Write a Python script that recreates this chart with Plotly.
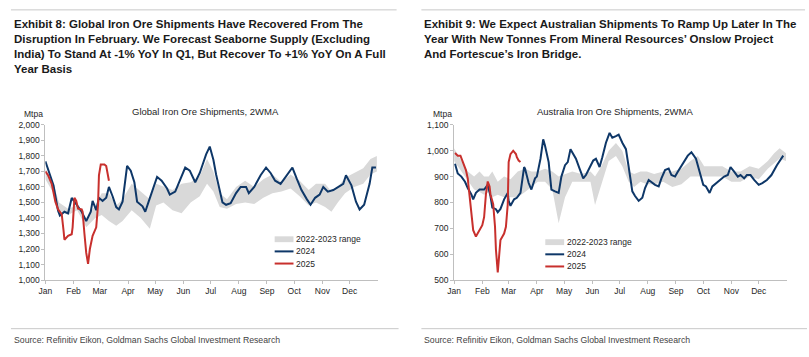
import pandas as pd
import plotly.graph_objects as go

# ---------------- DATA ----------------
# Left chart: Global iron ore shipments, 2WMA (Mtpa); x = day of year (0 = 1 Jan)
g24_day = [0, 9, 14, 16, 21, 25, 29, 34, 40, 45, 50, 52, 56, 59, 63, 67, 70, 74, 78, 81, 85, 90, 94, 98,
           101, 107, 110, 114, 119, 123, 128, 134, 137, 143, 148, 154, 159, 165, 170, 174, 177, 181, 185,
           188, 192, 195, 199, 204, 210, 215, 221, 224, 230, 237, 243, 248, 253, 259, 264, 272, 277, 282,
           288, 292, 297, 302, 306, 311, 317, 322, 328, 331, 337, 342, 346, 351, 357, 360, 364]
g24_val = [1765, 1610, 1446, 1415, 1440, 1430, 1529, 1490, 1440, 1380, 1440, 1510, 1450, 1530, 1510, 1530,
           1600, 1540, 1470, 1455, 1505, 1735, 1705, 1630, 1505, 1475, 1440, 1510, 1600, 1665, 1640, 1590,
           1550, 1570, 1640, 1725, 1705, 1630, 1690, 1755, 1810, 1860, 1775, 1680, 1570, 1500, 1485, 1495,
           1560, 1600, 1600, 1560, 1600, 1675, 1725, 1690, 1640, 1620, 1660, 1725, 1650, 1580, 1520, 1485,
           1530, 1550, 1600, 1570, 1580, 1600, 1620, 1675, 1610, 1505, 1455, 1485, 1620, 1725, 1725]
g25_day = [0, 3, 7, 11, 14, 18, 20, 21, 25, 29, 30, 32, 34, 36, 40, 41, 43, 45, 47, 49, 52, 56, 58, 59,
           61, 65, 67, 69, 70]
g25_val = [1700, 1675, 1620, 1505, 1455, 1425, 1320, 1260, 1285, 1295, 1340, 1530, 1510, 1460, 1455, 1440,
           1300, 1175, 1105, 1200, 1285, 1340, 1485, 1675, 1745, 1745, 1735, 1685, 1640]
g_rng_day = [0, 10, 15, 25, 35, 45, 55, 62, 70, 78, 85, 95, 105, 115, 122, 130, 140, 150, 160, 170, 178,
             185, 192, 200, 210, 220, 230, 240, 250, 260, 270, 280, 290, 298, 308, 315, 322, 330, 340, 350,
             358, 365]
g_rng_lo = [1650, 1550, 1450, 1420, 1450, 1340, 1400, 1420, 1380, 1350, 1380, 1450, 1400, 1330, 1480, 1500,
            1450, 1430, 1500, 1540, 1620, 1570, 1470, 1460, 1490, 1500, 1490, 1530, 1560, 1570, 1590, 1540,
            1480, 1500, 1470, 1440, 1500, 1560, 1600, 1620, 1680, 1700]
g_rng_hi = [1720, 1600, 1500, 1460, 1480, 1400, 1480, 1560, 1560, 1480, 1520, 1620, 1570, 1520, 1620, 1600,
            1580, 1620, 1630, 1670, 1780, 1700, 1560, 1520, 1600, 1640, 1600, 1650, 1680, 1630, 1680, 1640,
            1580, 1620, 1620, 1570, 1600, 1660, 1690, 1720, 1780, 1800]

# Right chart: Australia iron ore shipments, 2WMA (Mtpa)
a24_day = [1, 4, 8, 12, 15, 19, 21, 24, 28, 33, 37, 40, 42, 46, 48, 51, 55, 59, 60, 62, 66, 69, 73, 75, 77,
           78, 82, 85, 89, 91, 95, 98, 100, 104, 106, 107, 111, 115, 118, 122, 125, 128, 131, 134, 138, 142,
           145, 149, 153, 156, 160, 163, 167, 171, 174, 178, 181, 185, 189, 192, 196, 199, 203, 207, 210,
           214, 218, 221, 225, 228, 232, 236, 239, 243, 246, 252, 257, 261, 266, 270, 274, 277, 281, 284,
           290, 293, 297, 301, 304, 308, 312, 315, 319, 322, 326, 330, 335, 339, 344, 349, 355, 362]
a24_val = [950, 912, 900, 880, 856, 831, 812, 837, 850, 850, 868, 825, 780, 774, 762, 775, 812, 837, 806, 787,
           812, 818, 837, 893, 937, 931, 875, 850, 893, 900, 969, 1044, 1019, 956, 881, 850, 843, 837, 900,
           944, 956, 1006, 987, 969, 931, 893, 906, 937, 962, 969, 937, 975, 1031, 1069, 1050, 1056, 1062,
           1031, 1006, 937, 843, 825, 806, 818, 856, 887, 875, 868, 862, 893, 925, 931, 906, 900, 919, 956,
           981, 994, 969, 919, 868, 862, 837, 862, 881, 887, 900, 906, 937, 919, 900, 906, 893, 906, 906, 887,
           868, 875, 887, 906, 944, 981]
a25_day = [1, 4, 7, 10, 13, 15, 17, 19, 21, 24, 28, 31, 33, 35, 37, 39, 40, 42, 43, 45, 46, 48, 50, 51, 55,
           57, 59, 60, 62, 65, 68, 69, 71, 73]
a25_val = [991, 981, 981, 950, 925, 893, 831, 756, 693, 668, 693, 712, 743, 831, 881, 862, 831, 806, 793, 706,
           618, 530, 605, 655, 680, 706, 793, 956, 987, 1000, 987, 975, 962, 956]
a_rng_day = [0, 8, 15, 22, 28, 33, 38, 42, 48, 55, 62, 70, 78, 85, 92, 100, 108, 115, 122, 130, 140, 150,
             155, 162, 170, 178, 185, 192, 198, 205, 212, 220, 230, 240, 250, 260, 268, 275, 285, 295, 305,
             315, 325, 335, 345, 352, 358, 365]
a_rng_lo = [960, 920, 880, 850, 840, 830, 840, 820, 830, 820, 820, 820, 840, 860, 880, 880, 850, 720, 820,
            880, 880, 880, 790, 870, 960, 980, 940, 880, 860, 880, 870, 870, 880, 860, 870, 900, 900, 900,
            900, 900, 880, 880, 900, 890, 930, 950, 970, 960]
a_rng_hi = [1010, 960, 920, 900, 920, 900, 900, 920, 880, 900, 890, 920, 930, 920, 920, 930, 920, 900, 910,
            920, 910, 920, 900, 940, 1000, 1030, 1000, 920, 910, 920, 920, 910, 920, 920, 930, 960, 980, 940,
            940, 940, 920, 920, 940, 930, 960, 990, 1010, 990]

month_labels = ["Jan", "Feb", "Mar", "Apr", "May", "Jun", "Jul", "Aug", "Sep", "Oct", "Nov", "Dec"]
legend_names = ["2022-2023 range", "2024", "2025"]
titles = ["Global Iron Ore Shipments, 2WMA", "Australia Iron Ore Shipments, 2WMA"]
unit = "Mtpa"
headers = [
    "Exhibit 8: Global Iron Ore Shipments Have Recovered From The<br>Disruption In February. We Forecast Seaborne Supply (Excluding<br>India) To Stand At -1% YoY In Q1, But Recover To +1% YoY On A Full<br>Year Basis",
    "Exhibit 9: We Expect Australian Shipments To Ramp Up Later In The<br>Year With New Tonnes From Mineral Resources\u2019 Onslow Project<br>And Fortescue\u2019s Iron Bridge.",
]
source = "Source: Refinitiv Eikon, Goldman Sachs Global Investment Research"

# ---------------- STYLE ----------------
W, H = 809, 357
C24 = "#0e3768"
C25 = "#c8302d"
CBAND = "#d9d9d9"
AXC = "#bfbfbf"
TXT = "#262626"
FONT = "Liberation Sans, Arial, sans-serif"
HFONT = "Liberation Sans, Arial, sans-serif"

base = pd.Timestamp("2024-01-01")


def to_dates(days):
    return [base + pd.Timedelta(days=d) for d in days]


def px(x):
    return x / W


def py(y):
    return 1 - y / H


fig = go.Figure()

panels = [
    dict(xa="x", ya="y", rd=g_rng_day, lo=g_rng_lo, hi=g_rng_hi, d24=g24_day, v24=g24_val, d25=g25_day,
         v25=g25_val),
    dict(xa="x2", ya="y2", rd=a_rng_day, lo=a_rng_lo, hi=a_rng_hi, d24=a24_day, v24=a24_val, d25=a25_day,
         v25=a25_val),
]
for p in panels:
    fig.add_trace(go.Scatter(x=to_dates(p["rd"]), y=p["lo"], mode="lines", line=dict(width=0, color=CBAND),
                             xaxis=p["xa"], yaxis=p["ya"], showlegend=False, hoverinfo="skip"))
    fig.add_trace(go.Scatter(x=to_dates(p["rd"]), y=p["hi"], mode="lines", line=dict(width=0, color=CBAND),
                             fill="tonexty", fillcolor=CBAND, xaxis=p["xa"], yaxis=p["ya"], showlegend=False,
                             name=legend_names[0]))
    fig.add_trace(go.Scatter(x=to_dates(p["d24"]), y=p["v24"], mode="lines", line=dict(width=2, color=C24),
                             xaxis=p["xa"], yaxis=p["ya"], showlegend=False, name=legend_names[1]))
    fig.add_trace(go.Scatter(x=to_dates(p["d25"]), y=p["v25"], mode="lines", line=dict(width=2, color=C25),
                             xaxis=p["xa"], yaxis=p["ya"], showlegend=False, name=legend_names[2]))

tickvals = [base + pd.DateOffset(months=i) for i in range(12)]
xcommon = dict(range=[base, base + pd.Timedelta(days=366)], tickmode="array", tickvals=tickvals,
               ticktext=month_labels, showline=True, linecolor=AXC, linewidth=1, ticks="outside", ticklen=3,
               tickcolor=AXC, showgrid=False, zeroline=False, tickfont=dict(family=FONT, size=8.5, color=TXT),
               fixedrange=True)
ycommon = dict(showline=True, linecolor=AXC, linewidth=1, ticks="outside", ticklen=3, tickcolor=AXC,
               showgrid=False, zeroline=False, dtick=100, tickformat=",",
               tickfont=dict(family=FONT, size=8.5, color=TXT), fixedrange=True)

plot_top, plot_bot = 123.3, 283
fig.update_layout(
    width=W, height=H, margin=dict(l=0, r=0, t=0, b=0), paper_bgcolor="white", plot_bgcolor="white",
    showlegend=False,
    xaxis=dict(domain=[px(38.7), px(374)], anchor="y", **xcommon),
    yaxis=dict(domain=[py(plot_bot), py(plot_top)], anchor="x", range=[1000, 2000], **ycommon),
    xaxis2=dict(domain=[px(451), px(786.7)], anchor="y2", **xcommon),
    yaxis2=dict(domain=[py(plot_bot), py(plot_top)], anchor="x2", range=[500, 1100], **ycommon),
)

ann = []
shapes = []
# headers & rules
for i, (x0, x1) in enumerate([(4, 393), (418, 805)]):
    shapes.append(dict(type="line", xref="paper", yref="paper", x0=px(x0), x1=px(x1), y0=py(5), y1=py(5),
                       line=dict(color="#c8c8c8", width=1)))
    shapes.append(dict(type="line", xref="paper", yref="paper", x0=px(x0), x1=px(x1 + 2), y0=py(333),
                       y1=py(333), line=dict(color="#c8c8c8", width=1)))
    ann.append(dict(text="<b>" + headers[i] + "</b>", xref="paper", yref="paper", x=px(x0 + 1), y=py(11.5),
                    xanchor="left", yanchor="top", align="left", showarrow=False,
                    font=dict(family=HFONT, size=11.5, color="#1a1a1a")))
    ann.append(dict(text=source, xref="paper", yref="paper", x=px(x0 + 1), y=py(345), xanchor="left",
                    yanchor="middle", showarrow=False, font=dict(family=FONT, size=8.7, color="#444")))

# chart titles and units
for cx, t in [(200, titles[0]), (613, titles[1])]:
    ann.append(dict(text=t, xref="paper", yref="paper", x=px(cx), y=py(110), xanchor="center",
                    yanchor="middle", showarrow=False, font=dict(family=FONT, size=9.5, color=TXT)))
for ux in [15, 428]:
    ann.append(dict(text=unit, xref="paper", yref="paper", x=px(ux), y=py(112), xanchor="left",
                    yanchor="middle", showarrow=False, font=dict(family=FONT, size=8.5, color=TXT)))

# legends
for lx, ly in [(270, 241), (543, 244)]:
    styles = [("rect", CBAND), ("line", C24), ("line", C25)]
    for k, (kind, col) in enumerate(styles):
        yy = ly + k * 12.5
        if kind == "rect":
            shapes.append(dict(type="rect", xref="paper", yref="paper", x0=px(lx), x1=px(lx + 19),
                               y0=py(yy + 3), y1=py(yy - 3), fillcolor=col, line=dict(width=0)))
        else:
            shapes.append(dict(type="line", xref="paper", yref="paper", x0=px(lx), x1=px(lx + 19),
                               y0=py(yy), y1=py(yy), line=dict(color=col, width=2)))
        ann.append(dict(text=legend_names[k], xref="paper", yref="paper", x=px(lx + 20), y=py(yy),
                        xanchor="left", yanchor="middle", showarrow=False,
                        font=dict(family=FONT, size=8.5, color=TXT)))

fig.update_layout(annotations=ann, shapes=shapes)
fig.write_html("out.html", config={"displayModeBar": False},
               post_script="document.body.style.margin='0';")
